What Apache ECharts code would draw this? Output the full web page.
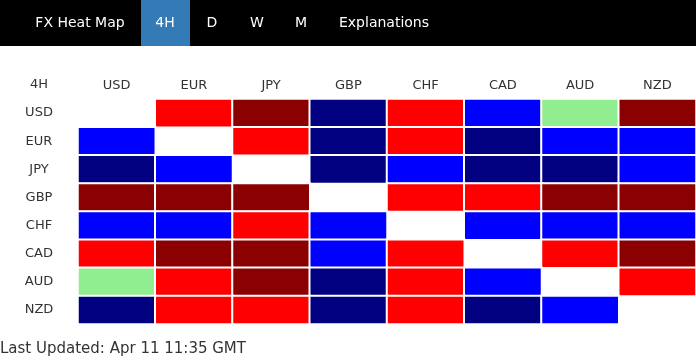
<!DOCTYPE html>
<html><head><meta charset="utf-8">
<script src="https://cdn.jsdelivr.net/npm/echarts@6/dist/echarts.min.js"></script>
<style>html,body{margin:0;padding:0;background:#fff}#c{width:696px;height:360px}</style>
</head><body><div id="c"></div>
<script>
const currencies = ['USD','EUR','JPY','GBP','CHF','CAD','AUD','NZD'];
const navItems = ['FX Heat Map','4H','D','W','M','Explanations'];
const timeframe = '4H';
const lastUpdated = 'Last Updated: Apr 11 11:35 GMT';
// strength codes: 2 = dark red, 1 = red, 0 = neutral (green), -1 = blue, -2 = navy, null = diagonal
const rowUSD = [null, 1, 2, -2, 1, -1, 0, 2];
const rowEUR = [-1, null, 1, -2, 1, -2, -1, -1];
const rowJPY = [-2, -1, null, -2, -1, -2, -2, -1];
const rowGBP = [2, 2, 2, null, 1, 1, 2, 2];
const rowCHF = [-1, -1, 1, -1, null, -1, -1, -1];
const rowCAD = [1, 2, 2, -1, 1, null, 1, 2];
const rowAUD = [0, 1, 2, -2, 1, -1, null, 1];
const rowNZD = [-2, 1, 1, -2, 1, -2, -1, null];
const rows = [rowUSD, rowEUR, rowJPY, rowGBP, rowCHF, rowCAD, rowAUD, rowNZD];

const data = [];
rows.forEach((r, yi) => r.forEach((v, xi) => { if (v !== null) data.push([xi, yi, v]); }));

const font = 'DejaVu Sans, Verdana, sans-serif';
const navX = [80, 165, 212, 257, 301, 384];
const graphics = [
  {type:'rect', shape:{x:0,y:0,width:696,height:46}, style:{fill:'#000'}},
  {type:'rect', shape:{x:141,y:0,width:49,height:46}, style:{fill:'#337ab7'}},
  {type:'text', x:39, y:85, style:{text:timeframe, font:'13px '+font, fill:'#333', textAlign:'center', textVerticalAlign:'middle'}},
  {type:'text', x:0, y:349, style:{text:lastUpdated, font:'15px '+font, fill:'#333', textAlign:'left', textVerticalAlign:'middle'}}
];
navItems.forEach((t,i)=>graphics.push({type:'text', x:navX[i], y:23, style:{text:t, font:'14px '+font, fill:'#fff', textAlign:'center', textVerticalAlign:'middle'}}));

const chart = echarts.init(document.getElementById('c'));
chart.setOption({
  animation:false,
  grid:{left:78, right:0, top:99, bottom:36},
  xAxis:{type:'category', data:currencies, position:'top', axisLine:{show:false}, axisTick:{show:false}, splitArea:{show:false},
    axisLabel:{color:'#333', fontFamily:font, fontSize:13, margin:7}},
  yAxis:{type:'category', data:currencies, inverse:true, axisLine:{show:false}, axisTick:{show:false},
    axisLabel:{color:'#333', fontFamily:font, fontSize:13, margin:39, align:'center'}},
  visualMap:{type:'piecewise', show:false, dimension:2, pieces:[
    {value:2, color:'#8b0000'},{value:1, color:'#ff0000'},{value:0, color:'#90ee90'},
    {value:-1, color:'#0000ff'},{value:-2, color:'#000080'}]},
  series:[{type:'heatmap', data:data, itemStyle:{borderColor:'#fff', borderWidth:2}, label:{show:false}}],
  graphic:graphics
});
</script></body></html>
